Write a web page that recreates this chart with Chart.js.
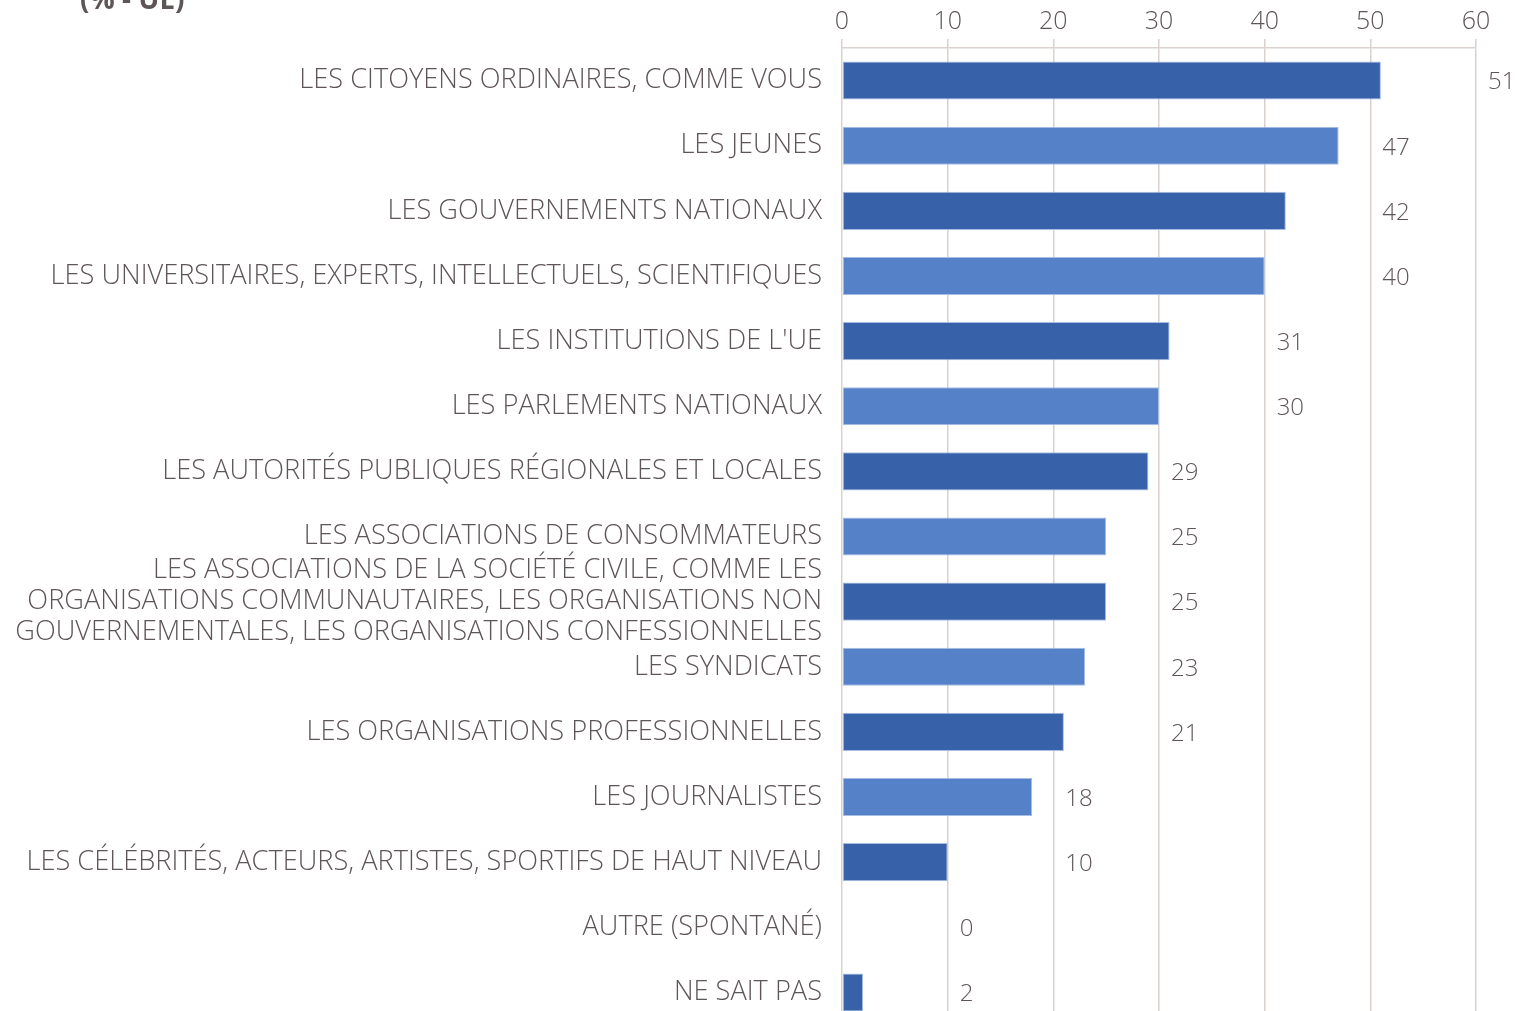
<!DOCTYPE html>
<html>
<head>
<meta charset="utf-8">
<script src="https://cdn.jsdelivr.net/npm/chart.js@4"></script>
<style>
html,body{margin:0;padding:0;background:#fff;overflow:hidden}
#wrap{position:relative;width:1517px;height:1011px;overflow:hidden}
#title{position:absolute;left:80px;top:-21px;font:bold 28px "Open Sans",sans-serif;color:#5e5557}
#box{position:absolute;left:0;top:0;width:1517px;height:1025px}
</style>
</head>
<body>
<div id="wrap">
<div id="box"><canvas id="chart"></canvas></div>
<div id="title">(% - UE)</div>
</div>
<script>
const categories = [
"LES CITOYENS ORDINAIRES, COMME VOUS",
"LES JEUNES",
"LES GOUVERNEMENTS NATIONAUX",
"LES UNIVERSITAIRES, EXPERTS, INTELLECTUELS, SCIENTIFIQUES",
"LES INSTITUTIONS DE L'UE",
"LES PARLEMENTS NATIONAUX",
"LES AUTORITÉS PUBLIQUES RÉGIONALES ET LOCALES",
"LES ASSOCIATIONS DE CONSOMMATEURS",
["LES ASSOCIATIONS DE LA SOCIÉTÉ CIVILE, COMME LES", "ORGANISATIONS COMMUNAUTAIRES, LES ORGANISATIONS NON", "GOUVERNEMENTALES, LES ORGANISATIONS CONFESSIONNELLES"],
"LES SYNDICATS",
"LES ORGANISATIONS PROFESSIONNELLES",
"LES JOURNALISTES",
"LES CÉLÉBRITÉS, ACTEURS, ARTISTES, SPORTIFS DE HAUT NIVEAU",
"AUTRE (SPONTANÉ)",
"NE SAIT PAS"
]
const values = [51, 47, 42, 40, 31, 30, 29, 25, 25, 23, 21, 18, 10, 0, 2]
const xTicks = [0, 10, 20, 30, 40, 50, 60]

const darkBlue = "#3762a9"
const lightBlue = "#5581c8"
const textColor = "#5e5557"
const gridColor = "#d8d1ce"

const barColors = values.map((v, i) => i % 2 === 0 ? darkBlue : lightBlue)

// value labels sit just past the next gridline, like the original
const valueLabels = {
id: "valueLabels",
afterDatasetsDraw(chart){
const ctx = chart.ctx
const xs = chart.scales.x
const meta = chart.getDatasetMeta(0)
ctx.save()
ctx.font = "350 24px 'Open Sans', sans-serif"
ctx.fillStyle = textColor
ctx.textAlign = "left"
ctx.textBaseline = "middle"
meta.data.forEach((bar, i) => {
const v = values[i]
const x = xs.getPixelForValue((Math.floor(v / 10) + 1) * 10) + 12
ctx.fillText(String(v), x, bar.y + 2)
})
ctx.restore()
}
}

new Chart(document.getElementById("chart"), {
type: "bar",
data: {
labels: categories,
datasets: [{
data: values,
backgroundColor: barColors,
borderColor: "#a8bde2",
borderWidth: 1,
borderSkipped: false,
categoryPercentage: 1,
barPercentage: 0.585
}]
},
options: {
indexAxis: "y",
responsive: true,
maintainAspectRatio: false,
animation: false,
layout: {padding: {left: 0, right: 41, top: 0, bottom: 0}},
plugins: {legend: {display: false}, tooltip: {enabled: false}},
scales: {
x: {
position: "top",
min: 0,
max: 60,
afterBuildTicks(scale){ scale.ticks = xTicks.map(v => ({value: v})) },
grid: {color: gridColor, lineWidth: 1.5, tickLength: 9, drawTicks: true},
border: {display: true, color: gridColor, width: 1.5},
ticks: {color: textColor, font: {family: "Open Sans", size: 25, weight: 350}, padding: 2},
afterFit(scale){ scale.height = 48 }
},
y: {
grid: {display: false, drawTicks: false, tickLength: 0},
border: {display: false},
ticks: {color: textColor, font: {family: "Open Sans", size: 27.2, weight: 350, lineHeight: 1.14}, padding: 20, autoSkip: false},
afterFit(scale){
scale.width = 842
scale.paddingTop = 0
scale.paddingBottom = 0
}
}
}
},
plugins: [valueLabels]
})
</script>
</body>
</html>
